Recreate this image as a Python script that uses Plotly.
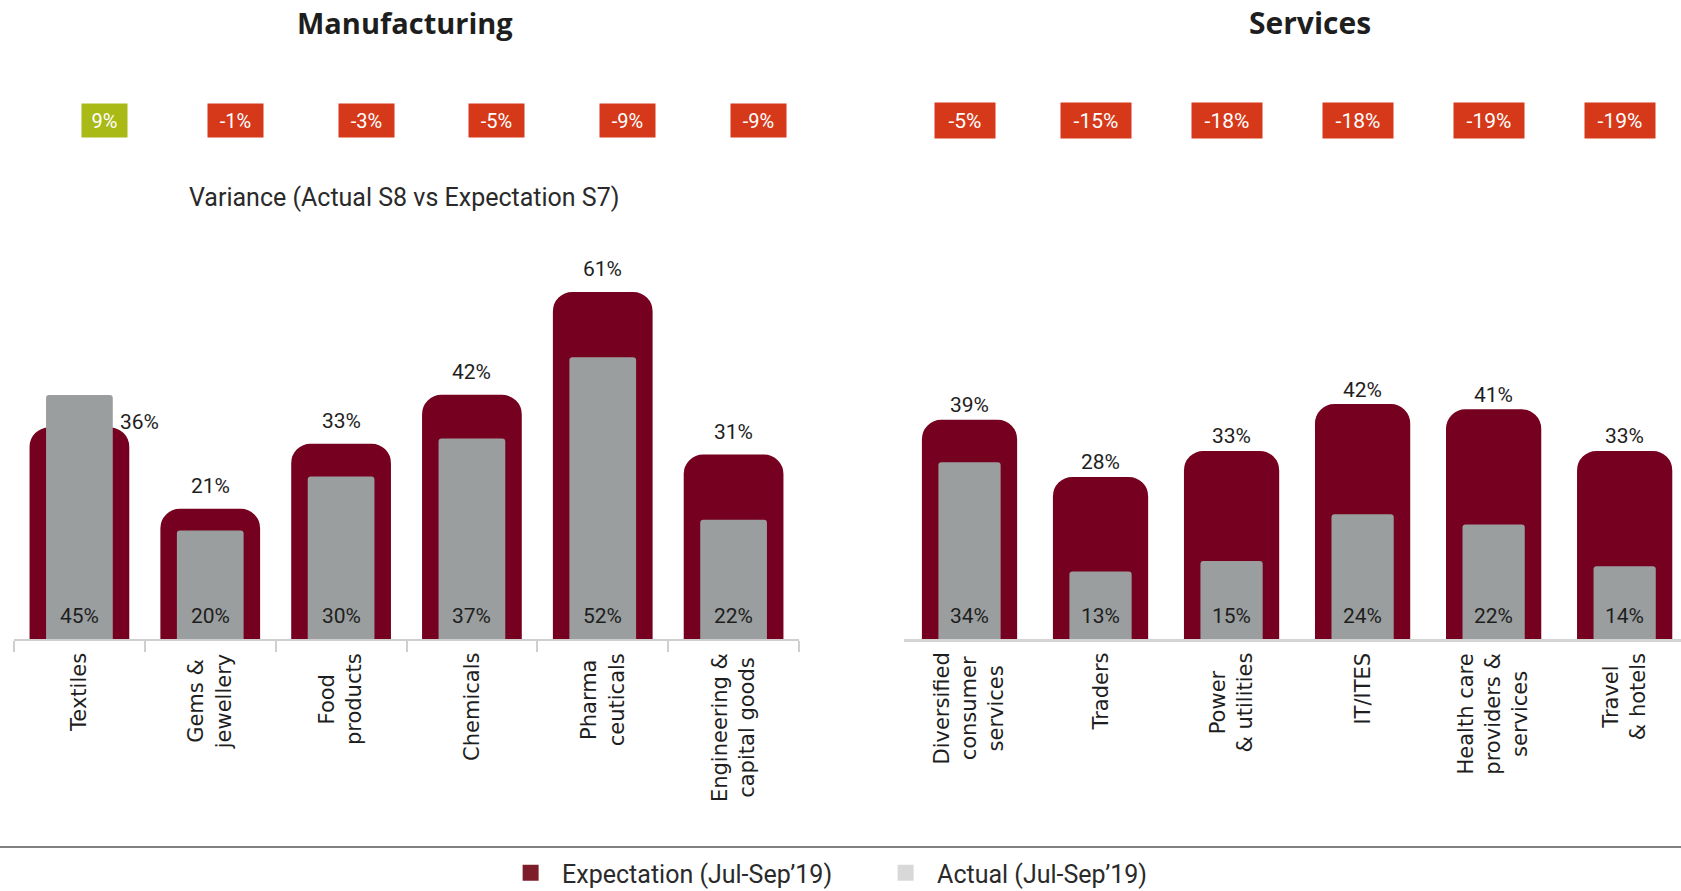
import plotly.graph_objects as go

# ---- data -------------------------------------------------------------
mfg_categories = ["Textiles", "Gems &<br>jewellery", "Food<br>products",
                  "Chemicals", "Pharma<br>ceuticals", "Engineering &<br>capital goods"]
mfg_expectation = [36, 21, 33, 42, 61, 31]
mfg_actual = [45, 20, 30, 37, 52, 22]
mfg_variance = [9, -1, -3, -5, -9, -9]

svc_categories = ["Diversified<br>consumer<br>services", "Traders", "Power<br>& utilities",
                  "IT/ITES", "Health care<br>providers &<br>services", "Travel<br>& hotels"]
svc_expectation = [39, 28, 33, 42, 41, 33]
svc_actual = [34, 13, 15, 24, 22, 14]
svc_variance = [-5, -15, -18, -18, -19, -19]

panel_titles = ["Manufacturing", "Services"]
legend_names = ["Expectation (Jul-Sep\u201919)", "Actual (Jul-Sep\u201919)"]
variance_caption = "Variance (Actual S8 vs Expectation S7)"

# ---- styling ----------------------------------------------------------
MAROON = "#76001F"
GREY = "#9A9E9F"
RED_TAG = "#D5391A"
GREEN_TAG = "#A9BA17"
TEXT = "#1E1E1E"
LABEL_FONT = "Roboto"
CAT_FONT = "DejaVu Sans"

W, H = 1681, 891

fig = go.Figure()

# expectation bars live on y / y2, actual bars on overlaying y3 / y4 so each
# bar keeps its own rounded top
panels = [
    dict(cats=mfg_categories, exp=mfg_expectation, act=mfg_actual, var=mfg_variance,
         xa="x", ya="y", ya_act="y3", width=0.51, tag_shift=25, tag_pad=6, tag_size=20,
         tag_extra=13, top_shift=39),
    dict(cats=svc_categories, exp=svc_expectation, act=svc_actual, var=svc_variance,
         xa="x2", ya="y2", ya_act="y4", width=0.475, tag_shift=-5, tag_pad=7, tag_size=21,
         tag_extra=16, top_shift=31),
]

annotations = []
for i, p in enumerate(panels):
    # expectation bar: thick same-colour outline gives the rounded frame
    fig.add_trace(go.Bar(
        x=p["cats"], y=p["exp"], width=p["width"], xaxis=p["xa"], yaxis=p["ya"],
        marker=dict(color=MAROON, line=dict(color=MAROON, width=33), cornerradius=3),
        showlegend=False, hoverinfo="skip"))
    fig.add_trace(go.Bar(
        x=p["cats"], y=p["act"], width=p["width"], xaxis=p["xa"], yaxis=p["ya_act"],
        marker=dict(color=GREY, line=dict(width=0), cornerradius=3),
        showlegend=False, hoverinfo="skip"))

    for c, e, a, v in zip(p["cats"], p["exp"], p["act"], p["var"]):
        # expectation value above the bar, or beside it when the actual bar is taller
        if a > e:
            annotations.append(dict(x=c, y=e, xref=p["xa"], yref=p["ya"], text=f"{e}%",
                                    showarrow=False, xshift=60, yshift=22, yanchor="middle",
                                    font=dict(family=LABEL_FONT, size=21, color=TEXT)))
        else:
            annotations.append(dict(x=c, y=e, xref=p["xa"], yref=p["ya"], text=f"{e}%",
                                    showarrow=False, yshift=p["top_shift"], yanchor="middle",
                                    font=dict(family=LABEL_FONT, size=21, color=TEXT)))
        # actual value at the foot of the bar
        annotations.append(dict(x=c, y=0, xref=p["xa"], yref=p["ya"], text=f"{a}%",
                                showarrow=False, yshift=23, yanchor="middle",
                                font=dict(family=LABEL_FONT, size=21, color=TEXT)))
        # rotated category label under the axis
        annotations.append(dict(x=c, y=0, xref=p["xa"], yref=p["ya"], text=c,
                                showarrow=False, textangle=-90, align="center",
                                yanchor="top", yshift=-12,
                                font=dict(family=CAT_FONT, size=21, color=TEXT)))
        # variance tag
        tag = f"{v}%"
        annotations.append(dict(x=c, y=1 - 121 / H, xref=p["xa"], yref="paper",
                                text=tag, showarrow=False, xshift=p["tag_shift"],
                                yanchor="middle", xanchor="center",
                                width=10 * len(tag) + p["tag_extra"], height=21,
                                bgcolor=GREEN_TAG if v > 0 else RED_TAG,
                                borderpad=p["tag_pad"],
                                font=dict(family=LABEL_FONT, size=p["tag_size"], color="white")))

# panel titles and caption
annotations.append(dict(x=405 / W, y=1 - 22 / H, xref="paper", yref="paper",
                        xanchor="center", yanchor="middle", text=f"<b>{panel_titles[0]}</b>",
                        showarrow=False, font=dict(family="Open Sans", size=29, color=TEXT)))
annotations.append(dict(x=1310 / W, y=1 - 22 / H, xref="paper", yref="paper",
                        xanchor="center", yanchor="middle", text=f"<b>{panel_titles[1]}</b>",
                        showarrow=False, font=dict(family="Open Sans", size=30, color=TEXT)))
annotations.append(dict(x=404 / W, y=1 - 197 / H, xref="paper", yref="paper",
                        xanchor="center", yanchor="middle", text=variance_caption,
                        showarrow=False, font=dict(family=LABEL_FONT, size=25, color="#2A2A2A")))

# legend entries
fig.add_trace(go.Scatter(x=[None], y=[None], mode="markers", name=legend_names[0],
                         marker=dict(symbol="square", size=20, color="#7D1D2A")))
fig.add_trace(go.Scatter(x=[None], y=[None], mode="markers", name=legend_names[1],
                         marker=dict(symbol="square", size=20, color="#D8D8D8")))

y_bottom = 1 - 639 / H
y_top = 1 - 255 / H
mfg_range = [0, 384 / 5.42]
svc_range = [0, 384 / 5.2]

fig.update_layout(
    width=W, height=H,
    # fixed margins: the legend must not resize the plotting area
    margin=dict(l=0, r=0, t=0, b=0, autoexpand=False),
    paper_bgcolor="white", plot_bgcolor="rgba(0,0,0,0)",
    barmode="overlay",
    showlegend=True,
    legend=dict(orientation="h", x=0.520, xanchor="center", y=1 - 873 / H, yanchor="middle",
                bgcolor="rgba(0,0,0,0)",
                font=dict(family=LABEL_FONT, size=25, color="#2A2A2A"),
                itemwidth=53, entrywidth=307, itemclick=False, itemdoubleclick=False),
    xaxis=dict(domain=[14 / W, 799 / W], type="category", range=[-0.5, 5.5],
               showticklabels=False, showgrid=False, zeroline=False,
               showline=True, linecolor="#CFCFCF", linewidth=2,
               ticks="outside", tickson="boundaries", ticklen=11, tickcolor="#CFCFCF", tickwidth=2),
    yaxis=dict(domain=[y_bottom, y_top], range=mfg_range, visible=False),
    yaxis3=dict(domain=[y_bottom, y_top], range=mfg_range, visible=False,
                overlaying="y", anchor="x", matches="y"),
    xaxis2=dict(domain=[904 / W, 1.0], type="category", range=[-0.5, 5.43], anchor="y2",
                showticklabels=False, showgrid=False, zeroline=False,
                showline=True, linecolor="#D4D4D4", linewidth=3, ticks=""),
    yaxis2=dict(domain=[y_bottom, y_top], range=svc_range, visible=False, anchor="x2"),
    yaxis4=dict(domain=[y_bottom, y_top], range=svc_range, visible=False,
                overlaying="y2", anchor="x2", matches="y2"),
    annotations=annotations,
    shapes=[dict(type="line", xref="paper", yref="paper", x0=0, x1=1,
                 y0=1 - 847 / H, y1=1 - 847 / H, line=dict(color="#808080", width=2))],
)

fig.write_html("out.html")
